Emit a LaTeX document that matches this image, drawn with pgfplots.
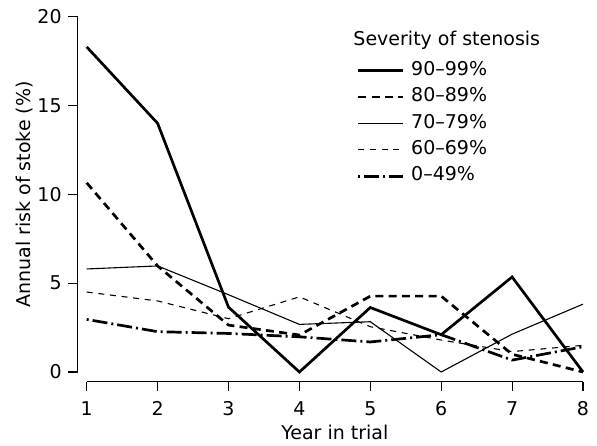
\documentclass[border=0pt]{standalone}
\usepackage{fontspec}
\setmainfont{DejaVu Sans}
\usepackage{pgfplots}
\pgfplotsset{compat=1.18}
\begin{document}
\fontsize{19}{23}\selectfont
\begin{tikzpicture}
\begin{axis}[
  scale only axis, width=496.3pt, height=355.3pt,
  xmin=1, xmax=8, ymin=0, ymax=20,
  axis lines=left,
  axis line style={-, line width=1.2pt},
  axis x line shift=9.7pt,
  axis y line shift=9pt,
  xtick={1,2,3,4,5,6,7,8}, ytick={0,5,10,15,20},
  tick align=outside, major tick length=9.5pt,
  tick style={line width=1.2pt, black},
  xticklabel style={yshift=-3.5pt},
  /pgf/number format/assume math mode=true,
  clip=false,
  xlabel={Year in trial},
  ylabel={Annual risk of stoke (\%)},
  xlabel style={at={(rel axis cs:0.5,0)}, anchor=center, yshift=-60pt},
  ylabel style={at={(rel axis cs:0,0.5)}, anchor=center, yshift=62pt},
  legend image code/.code={\draw[#1] (0pt,0pt) -- (45pt,0pt);},
  legend style={at={(axis cs:4.808,17.45)}, anchor=north west, draw=none, fill=none,
    inner sep=0pt, column sep=6.6pt, row sep=9.4pt,
    nodes={inner sep=0pt, text height=13pt, text depth=4pt}},
  legend cell align=left,
]
\addplot[black, line width=2.7pt] coordinates {(1,18.3)(2,14.0)(3,3.65)(4,0)(5,3.63)(6,2.1)(7,5.35)(8,0)};
\addlegendentry{90--99\%}
\addplot[black, line width=2.7pt, dash pattern=on 8pt off 5.3pt] coordinates {(1,10.65)(2,5.97)(3,2.64)(4,2.08)(5,4.27)(6,4.27)(7,1.0)(8,0)};
\addlegendentry{80--89\%}
\addplot[black, line width=1.1pt] coordinates {(1,5.8)(2,5.97)(3,4.35)(4,2.68)(5,2.83)(6,0)(7,2.13)(8,3.82)};
\addlegendentry{70--79\%}
\addplot[black, line width=1.1pt, dash pattern=on 6pt off 5.7pt] coordinates {(1,4.5)(2,4.0)(3,3.0)(4,4.23)(5,2.55)(6,1.8)(7,1.15)(8,1.5)};
\addlegendentry{60--69\%}
\addplot[black, line width=2.7pt, dash pattern=on 2pt off 4pt on 15pt off 4pt] coordinates {(1,2.96)(2,2.27)(3,2.17)(4,1.98)(5,1.69)(6,2.1)(7,0.67)(8,1.42)};
\addlegendentry{0--49\%}
\node[anchor=base west, inner sep=0pt] at (axis cs:4.76,18.40) {Severity of stenosis};
\coordinate (SW) at (rel axis cs:0,0);
\coordinate (NE) at (rel axis cs:1,1);
\end{axis}
\path (SW) ++(-86.7pt,-73pt);
\path (NE) ++(14pt,16.7pt);
\end{tikzpicture}
\end{document}
